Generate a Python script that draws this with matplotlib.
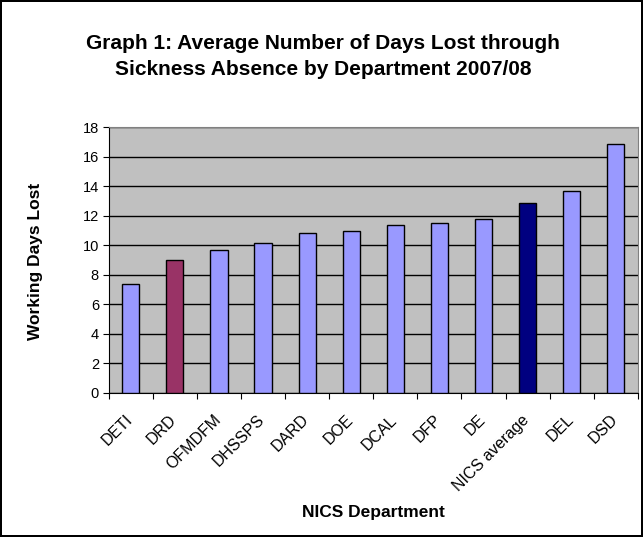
import matplotlib.pyplot as plt
from matplotlib.transforms import ScaledTranslation

depts = ['DETI', 'DRD', 'OFMDFM', 'DHSSPS', 'DARD', 'DOE', 'DCAL', 'DFP',
         'DE', 'NICS average', 'DEL', 'DSD']
days_lost = [7.35, 9.0, 9.7, 10.13, 10.85, 10.95, 11.4, 11.49, 11.76, 12.85, 13.66, 16.87]
bar_colors = ['#9999FF', '#993366', '#9999FF', '#9999FF', '#9999FF', '#9999FF',
              '#9999FF', '#9999FF', '#9999FF', '#000080', '#9999FF', '#9999FF']

plt.rcParams['font.family'] = ['Liberation Sans', 'DejaVu Sans']

fig = plt.figure(figsize=(6.43, 5.37), dpi=100)
fig.patch.set_edgecolor('black')
fig.patch.set_linewidth(1.5)
ax = fig.add_axes([0.169, 0.269, 0.823, 0.494])
ax.set_facecolor('#C0C0C0')

x = range(len(depts))
ax.bar(x, days_lost, width=0.39, color=bar_colors, edgecolor='black', linewidth=1, zorder=3)

ax.set_ylim(0, 18)
ax.set_yticks(range(0, 19, 2))
ax.set_xlim(-0.5, len(depts) - 0.5)
ax.yaxis.grid(True, color='black', linewidth=1, zorder=0)
ax.set_axisbelow(True)

# ticks between categories, labels centred on bars
ax.set_xticks([i - 0.5 for i in range(len(depts) + 1)])
ax.set_xticklabels([])
ax.set_xticks(list(x), minor=True)
ax.set_xticklabels(depts, minor=True, rotation=45, ha='right', va='top',
                   rotation_mode='anchor', fontsize=11.5)
ax.tick_params(axis='x', which='minor', length=0, pad=14)
ax.tick_params(axis='x', which='major', length=4, color='black')
ax.tick_params(axis='y', labelsize=10.5, length=4, pad=3)
shift = ScaledTranslation(-6 / 100, 0, fig.dpi_scale_trans)
for lbl in ax.get_xticklabels(minor=True):
    lbl.set_transform(lbl.get_transform() + shift)

for side in ['top', 'right']:
    ax.spines[side].set_color('#808080')
for side in ['left', 'bottom']:
    ax.spines[side].set_color('black')

ax.set_ylabel('Working Days Lost', fontsize=12.5, fontweight='bold', va='center')
ax.yaxis.set_label_coords(-0.139, 0.494)
ax.set_xlabel('NICS Department', fontsize=12.5, fontweight='bold', va='center')
ax.xaxis.set_label_coords(0.5, -0.453)
fig.text(0.503, 0.895, 'Graph 1: Average Number of Days Lost through\nSickness Absence by Department 2007/08',
         ha='center', va='center', fontsize=15, fontweight='bold', linespacing=1.45)

fig.savefig('out.png', dpi=100, edgecolor=fig.get_edgecolor())
